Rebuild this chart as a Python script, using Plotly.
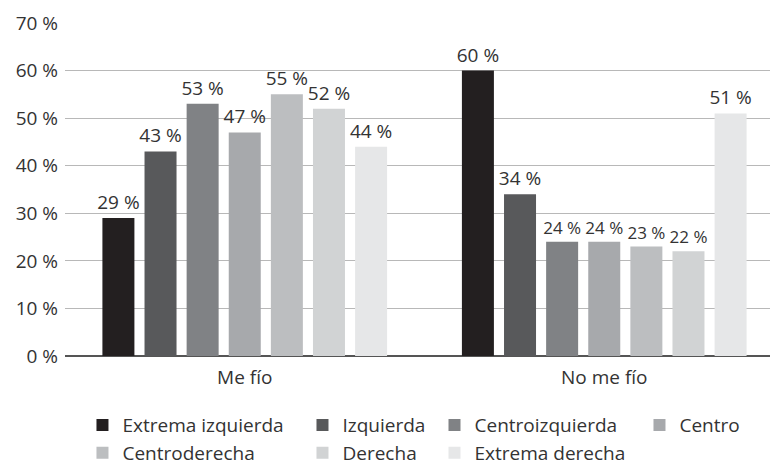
import plotly.graph_objects as go

categories = ["Me fío", "No me fío"]
series_names = ["Extrema izquierda", "Izquierda", "Centroizquierda", "Centro",
                "Centroderecha", "Derecha", "Extrema derecha"]
me_fio = [29, 43, 53, 47, 55, 52, 44]
no_me_fio = [60, 34, 24, 24, 23, 22, 51]
colors = ["#231f20", "#58595b", "#808285", "#a7a9ac", "#bcbec0", "#d1d3d4", "#e6e7e8"]
tick_vals = [0, 10, 20, 30, 40, 50, 60, 70]
tick_text = ["0 %", "10 %", "20 %", "30 %", "40 %", "50 %", "60 %", "70 %"]

legend_of = ["legend", "legend2", "legend3", "legend4", "legend", "legend2", "legend3"]
# label font sizes per group (the narrow middle bars of "No me fío" use a smaller label)
label_sizes_no = [19, 19, 17, 17, 17, 17, 19]

FONT = "Open Sans"
TXT = "#333333"

fig = go.Figure()
for i, name in enumerate(series_names):
    vals = [me_fio[i], no_me_fio[i]]
    fig.add_trace(go.Bar(
        x=categories, y=vals, name=name,
        marker=dict(color=colors[i], line=dict(width=0)),
        text=[f"{v} %" for v in vals], textposition="outside",
        textfont=dict(family=FONT, size=[19, label_sizes_no[i]], color=TXT),
        constraintext="none", cliponaxis=False,
        legend=legend_of[i], legendgroup=name,
    ))

leg_common = dict(orientation="v", yanchor="top", xanchor="left",
                  xref="paper", yref="container", y=0.14,
                  font=dict(family=FONT, size=19, color=TXT),
                  tracegroupgap=8, bgcolor="rgba(0,0,0,0)", traceorder="normal")

fig.update_layout(
    width=778, height=463,
    margin=dict(l=57, r=2, t=15, b=115),
    paper_bgcolor="white", plot_bgcolor="white",
    barmode="group", bargap=0.18, bargroupgap=0.24,
    font=dict(family=FONT, size=19, color=TXT),
    showlegend=True,
    legend=dict(x=0.0243, **leg_common),
    legend2=dict(x=0.3303, **leg_common),
    legend3=dict(x=0.5139, **leg_common),
    legend4=dict(x=0.799, **leg_common),
    xaxis=dict(showline=False, ticks="", automargin=False, ticklabelstandoff=8,
               tickfont=dict(family=FONT, size=19, color=TXT)),
    yaxis=dict(range=[0, 70], tickvals=tick_vals, ticktext=tick_text, automargin=False,
               showgrid=True, gridcolor="#b8b8b8", gridwidth=1,
               zeroline=True, zerolinecolor="#555555", zerolinewidth=1.5,
               ticks="", ticklen=0, ticklabelstandoff=6,
               tickfont=dict(family=FONT, size=19, color=TXT)),
)

fig.write_html("out.html")
